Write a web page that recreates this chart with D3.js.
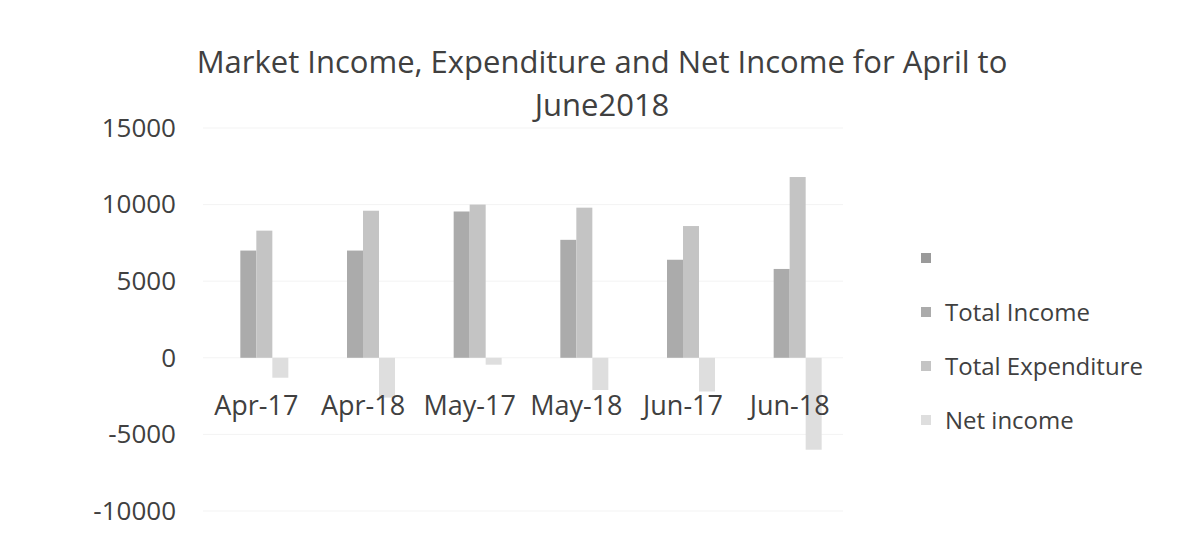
<!DOCTYPE html>
<html>
<head>
<meta charset="utf-8">
<script src="https://cdn.jsdelivr.net/npm/d3@7"></script>
<style>
  body { margin: 0; background: #fff; }
  text { font-family: "Open Sans", sans-serif; fill: #404040; }
</style>
</head>
<body>
<div id="chart"></div>
<script>
var months = ["Apr-17", "Apr-18", "May-17", "May-18", "Jun-17", "Jun-18"];
var seriesNames = ["", "Total Income", "Total Expenditure", "Net income"];
var blankSeries = [0, 0, 0, 0, 0, 0];
var totalIncome = [7000, 7000, 9550, 7700, 6400, 5800];
var totalExpenditure = [8300, 9600, 10000, 9800, 8600, 11800];
var netIncome = [-1300, -2600, -450, -2100, -2200, -6000];
var yTicks = [-10000, -5000, 0, 5000, 10000, 15000];
var colors = ["#9a9a9a", "#ababab", "#c4c4c4", "#dedede"];

var width = 1195, height = 538;
var svg = d3.select("#chart").append("svg")
    .attr("width", width)
    .attr("height", height);

var allSeries = [blankSeries, totalIncome, totalExpenditure, netIncome];

var y = d3.scaleLinear().domain([-10000, 15000]).range([511, 128]);
var x = d3.scaleBand().domain(months).range([203, 843])
    .paddingInner(0.4).paddingOuter(0.2);
var xs = d3.scaleBand().domain(d3.range(allSeries.length))
    .range([0, x.bandwidth()]);

// faint gridlines
svg.append("g").selectAll("line")
    .data(yTicks)
    .join("line")
    .attr("x1", 203).attr("x2", 843)
    .attr("y1", d => y(d)).attr("y2", d => y(d))
    .attr("stroke", "#f3f3f3")
    .attr("stroke-width", 1);

// y axis labels (plain hyphen for negatives, like the original)
var yAxis = svg.append("g")
    .attr("transform", "translate(176,0)")
    .call(d3.axisLeft(y).tickValues(yTicks).tickSize(0).tickPadding(0).tickFormat(d => String(d)));
yAxis.select(".domain").remove();
yAxis.selectAll("text")
    .style("font-size", "26px")
    .attr("fill", "#404040");

// bars
var groups = svg.append("g").selectAll("g")
    .data(allSeries)
    .join("g")
    .attr("fill", (d, i) => colors[i]);

groups.each(function(vals, si) {
    d3.select(this).selectAll("rect")
        .data(vals)
        .join("rect")
        .attr("x", (d, i) => x(months[i]) + xs(si))
        .attr("width", xs.bandwidth())
        .attr("y", d => y(Math.max(0, d)))
        .attr("height", d => Math.abs(y(d) - y(0)));
});

// category labels, placed just under the zero line
svg.append("g").selectAll("text")
    .data(months)
    .join("text")
    .attr("x", d => x(d) + x.bandwidth() / 2)
    .attr("y", y(0) + 57)
    .attr("text-anchor", "middle")
    .style("font-size", "27px")
    .text(d => d);

// title
var title = svg.append("text")
    .attr("x", 602)
    .attr("text-anchor", "middle")
    .style("font-size", "31px");
title.append("tspan").attr("x", 602).attr("y", 73)
    .text("Market Income, Expenditure and Net Income for April to");
title.append("tspan").attr("x", 602).attr("y", 116)
    .text("June2018");

// legend
var legend = svg.append("g").selectAll("g")
    .data(seriesNames)
    .join("g")
    .attr("transform", (d, i) => "translate(921," + (258 + i * 54) + ")");
legend.append("rect")
    .attr("x", 0).attr("y", -5)
    .attr("width", 10).attr("height", 10)
    .attr("fill", (d, i) => colors[i]);
legend.append("text")
    .attr("x", 24).attr("y", 9)
    .style("font-size", "24px")
    .text(d => d);
</script>
</body>
</html>
